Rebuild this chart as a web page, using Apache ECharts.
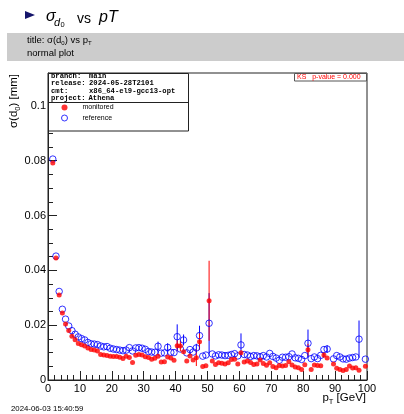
<!DOCTYPE html>
<html>
<head>
<meta charset="utf-8">
<script src="https://cdn.jsdelivr.net/npm/echarts@6/dist/echarts.min.js"></script>
<style>
html,body{margin:0;padding:0;background:#fff;}
#chart{width:404px;height:414px;}
</style>
</head>
<body>
<div id="chart"></div>
<script>
// ---- data (bin centres in GeV) ----
var binCenters = [1.5,2.5,3.5,4.5,5.5,6.5,7.5,8.5,9.5,10.5,11.5,12.5,13.5,14.5,15.5,16.5,17.5,18.5,19.5,20.5,
21.5,22.5,23.5,24.5,25.5,26.5,27.5,28.5,29.5,30.5,31.5,32.5,33.5,34.5,35.5,36.5,37.5,38.5,39.5,40.5,
41.5,42.5,43.5,44.5,45.5,46.5,47.5,48.5,49.5,50.5,51.5,52.5,53.5,54.5,55.5,56.5,57.5,58.5,59.5,60.5,
61.5,62.5,63.5,64.5,65.5,66.5,67.5,68.5,69.5,70.5,71.5,72.5,73.5,74.5,75.5,76.5,77.5,78.5,79.5,80.5,
81.5,82.5,83.5,84.5,85.5,86.5,87.5,88.5,89.5,90.5,91.5,92.5,93.5,94.5,95.5,96.5,97.5,98.5,99.5];

// reference (blue open circles)
var referenceValues = [0.0806,0.0452,0.0323,0.0258,0.0222,0.0197,0.0180,0.0167,0.0157,0.0151,
0.0146,0.0137,0.0132,0.0131,0.0129,0.0124,0.0121,0.0122,0.0116,0.0113,
0.0111,0.0109,0.0107,0.0109,0.0118,0.0106,0.0117,0.0118,0.0116,0.0112,
0.0104,0.0102,0.0101,0.0123,0.0098,0.0099,0.0119,0.0101,0.0100,0.0158,
0.0113,0.0146,0.0099,0.0111,0.0102,0.0117,0.0162,0.0087,0.0091,0.0207,
0.0095,0.0088,0.0092,0.0091,0.0089,0.0090,0.0093,0.0096,0.0088,0.0128,
0.0093,0.0091,0.0086,0.0089,0.0088,0.0085,0.0089,0.0084,0.0097,0.0086,
0.0080,0.0072,0.0083,0.0083,0.0085,0.0095,0.0081,0.0079,0.0075,0.0089,
0.0134,0.0078,0.0084,0.0078,0.0090,0.0111,0.0113,null,0.0077,0.0089,
0.0084,0.0077,0.0076,0.0080,0.0082,0.0084,0.0149,null,0.0076];

// monitored (red filled dots)
var monitoredValues = [0.0792,0.0445,0.0310,0.0244,0.0204,0.0181,0.0160,0.0147,0.0133,0.0129,
0.0124,0.0117,0.0111,0.0109,0.0106,0.0093,0.0091,0.0089,0.0087,0.0086,
0.0086,0.0083,0.0078,0.0087,0.0082,0.0064,0.0090,0.0093,0.0091,0.0085,
0.0082,0.0076,0.0079,0.0087,0.0066,0.0067,0.0084,0.0080,0.0072,0.0125,
0.0124,0.0103,0.0069,0.0088,0.0073,0.0081,0.0140,0.0049,0.0052,0.0289,
0.0069,0.0057,0.0063,0.0061,0.0058,0.0063,0.0075,0.0076,0.0058,0.0099,
0.0066,0.0069,0.0064,0.0057,0.0058,0.0073,0.0060,0.0054,0.0063,0.0049,
0.0045,0.0053,0.0051,0.0053,0.0067,0.0055,0.0047,0.0045,0.0038,0.0056,
0.0110,0.0038,0.0055,0.0053,0.0052,0.0091,0.0080,null,0.0058,0.0043,
0.0038,0.0035,0.0038,0.0051,0.0044,0.0045,0.0036,null,0.0050];

// visible error bars: [bin centre, half-length]
var referenceErrors = [[34.5,0.0017],[37.5,0.0015],[40.5,0.0045],[42.5,0.0020],[46.5,0.0015],
[47.5,0.0036],[50.5,0.0110],[60.5,0.0042],[81.5,0.0050],[87.5,0.0014],[97.5,0.0068]];
var monitoredErrors = [[40.5,0.0020],[41.5,0.0020],[46.5,0.0030],[47.5,0.0030],[50.5,0.0146],
[81.5,0.0022],[86.5,0.0010]];

var xTicks = [0,10,20,30,40,50,60,70,80,90,100];
var yTicks = [0,0.02,0.04,0.06,0.08,0.1];

// ---- build ----
function pts(vals){
  var out=[];
  for(var i=0;i<binCenters.length;i++){ if(vals[i]!==null) out.push([binCenters[i],vals[i]]); }
  return out;
}
function errData(errs, vals){
  return errs.map(function(e){
    var idx = binCenters.indexOf(e[0]);
    return [e[0], vals[idx], e[1]];
  });
}
function errSeries(errs, vals, color){
  return {
    type:'custom', silent:true, z:1,
    data: errData(errs, vals),
    renderItem:function(params, api){
      var x=api.value(0), y=api.value(1), e=api.value(2);
      var p1=api.coord([x,y+e]), p2=api.coord([x,y-e]);
      return {type:'line', shape:{x1:p1[0],y1:p1[1],x2:p2[0],y2:p2[1]}, style:{stroke:color,lineWidth:1}};
    }
  };
}

var chart = echarts.init(document.getElementById('chart'), null, {renderer:'canvas'});
var FONT = 'Liberation Sans, Arial, Helvetica, sans-serif';
var MONO = 'Liberation Mono, DejaVu Sans Mono, monospace';

var option = {
  animation:false,
  backgroundColor:'#fff',
  grid:{left:48, right:37, top:73, bottom:34, show:true, borderColor:'#222', borderWidth:1, backgroundColor:'transparent'},
  xAxis:{
    type:'value', min:xTicks[0], max:xTicks[xTicks.length-1], interval:10,
    axisLine:{show:true, onZero:false, lineStyle:{color:'#222', width:1}},
    axisTick:{show:true, inside:true, length:9, lineStyle:{color:'#222'}},
    minorTick:{show:true, splitNumber:5, length:5, lineStyle:{color:'#222'}},
    splitLine:{show:false},
    axisLabel:{color:'#000', fontSize:11, fontFamily:FONT, margin:3}
  },
  yAxis:{
    type:'value', min:yTicks[0], max:0.112, interval:0.02,
    axisLine:{show:true, onZero:false, lineStyle:{color:'#222', width:1}},
    axisTick:{show:true, inside:true, length:9, lineStyle:{color:'#222'}},
    minorTick:{show:true, splitNumber:4, length:5, lineStyle:{color:'#222'}},
    splitLine:{show:false},
    axisLabel:{color:'#000', fontSize:11, fontFamily:FONT, margin:2, showMaxLabel:false,
      formatter:function(v){ return yTicks.indexOf(+v.toFixed(3))<0 ? '' : (v===0 ? '0' : String(+v.toFixed(3))); }}
  },
  legend:{
    z:20,
    orient:'vertical', left:61, top:104, itemWidth:26, itemHeight:6, itemGap:3.5, padding:0,
    textStyle:{fontSize:7, fontFamily:FONT, color:'#000'},
    data:[
      {name:'monitored', icon:'circle', itemStyle:{color:'#ff0000'}},
      {name:'reference', icon:'circle', itemStyle:{color:'#ffffff', borderColor:'#0000ff', borderWidth:1}}
    ]
  },
  series:[
    errSeries(referenceErrors, referenceValues, '#0000ff'),
    {name:'reference', type:'scatter', z:2, symbol:'circle', symbolSize:6.5,
      itemStyle:{color:'rgba(0,0,0,0)', borderColor:'#0000ff', borderWidth:1},
      data:pts(referenceValues)},
    errSeries(monitoredErrors, monitoredValues, '#ff0000'),
    {name:'monitored', type:'scatter', z:3, symbol:'circle', symbolSize:5,
      itemStyle:{color:'#ff0000'}, data:pts(monitoredValues)}
  ],
  graphic:[
    // header
    {type:'polygon', shape:{points:[[25,11],[35,15],[25,19]]}, style:{fill:'#15156b'}},
    {type:'text', x:46, y:17, style:{text:'σ', font:'italic 16px '+FONT, fill:'#000', verticalAlign:'middle'}},
    {type:'text', x:54, y:23, style:{text:'d', font:'italic 11px '+FONT, fill:'#000', verticalAlign:'middle'}},
    {type:'text', x:60.5, y:25, style:{text:'0', font:'7.5px '+FONT, fill:'#000', verticalAlign:'middle'}},
    {type:'text', x:77, y:19, style:{text:'vs', font:'14px '+FONT, fill:'#000', verticalAlign:'middle'}},
    {type:'text', x:99, y:17.5, style:{text:'pT', font:'italic 16px '+FONT, fill:'#000', verticalAlign:'middle'}},
    // grey band
    {type:'rect', shape:{x:7, y:33, width:397, height:28}, style:{fill:'#cccccc'}},
    {type:'text', x:27, y:40, style:{
      text:'title: σ(d{s|0}) vs p{s|T}', font:'9.5px '+FONT, fill:'#000', verticalAlign:'middle',
      rich:{s:{fontSize:6, fontFamily:FONT, padding:[6,0,0,0]}}}},
    {type:'text', x:27, y:53, style:{text:'normal plot', font:'9.5px '+FONT, fill:'#000', verticalAlign:'middle'}},
    // info / legend box
    {type:'rect', z:5, shape:{x:48.5, y:73.5, width:140, height:57.5}, style:{fill:'#fff', stroke:'#222', lineWidth:1}},
    {type:'line', z:6, shape:{x1:48.5, y1:102.5, x2:188.5, y2:102.5}, style:{stroke:'#222', lineWidth:1}},
    {type:'text', z:6, x:51, y:76, style:{text:'branch:', font:'bold 7.2px '+MONO, fill:'#000', verticalAlign:'middle'}},
    {type:'text', z:6, x:89, y:76, style:{text:'main', font:'bold 7.2px '+MONO, fill:'#000', verticalAlign:'middle'}},
    {type:'text', z:6, x:51, y:83.4, style:{text:'release:', font:'bold 7.2px '+MONO, fill:'#000', verticalAlign:'middle'}},
    {type:'text', z:6, x:89, y:83.4, style:{text:'2024-05-28T2101', font:'bold 7.2px '+MONO, fill:'#000', verticalAlign:'middle'}},
    {type:'text', z:6, x:51, y:90.8, style:{text:'cmt:', font:'bold 7.2px '+MONO, fill:'#000', verticalAlign:'middle'}},
    {type:'text', z:6, x:89, y:90.8, style:{text:'x86_64-el9-gcc13-opt', font:'bold 7.2px '+MONO, fill:'#000', verticalAlign:'middle'}},
    {type:'text', z:6, x:51, y:98.3, style:{text:'project:', font:'bold 7.2px '+MONO, fill:'#000', verticalAlign:'middle'}},
    {type:'text', z:6, x:88.5, y:98.3, style:{text:'Athena', font:'bold 7.2px '+MONO, fill:'#000', verticalAlign:'middle'}},
    // KS box
    {type:'rect', z:5, shape:{x:294.5, y:73.5, width:72, height:7.5}, style:{fill:'#fff', stroke:'#555', lineWidth:1}},
    {type:'text', z:6, x:297, y:77.3, style:{text:'KS   p-value = 0.000', font:'7px '+FONT, fill:'#ff0000', verticalAlign:'middle'}},
    // axis titles
    {type:'text', x:14, y:101, rotation:Math.PI/2, style:{
      text:'σ(d{s|0}) [mm]', font:'11.5px '+FONT, fill:'#000', align:'center', verticalAlign:'middle',
      rich:{s:{fontSize:7.5, fontFamily:FONT, padding:[7,0,0,0]}}}},
    {type:'text', x:366, y:398, style:{
      text:'p{s|T} [GeV]', font:'11.5px '+FONT, fill:'#000', align:'right', verticalAlign:'middle',
      rich:{s:{fontSize:7.5, fontFamily:FONT, padding:[7,0,0,0]}}}},
    // timestamp
    {type:'text', x:11, y:409, style:{text:'2024-06-03 15:40:59', font:'7.8px '+FONT, fill:'#000', verticalAlign:'middle'}}
  ]
};
chart.setOption(option);
</script>
</body>
</html>
